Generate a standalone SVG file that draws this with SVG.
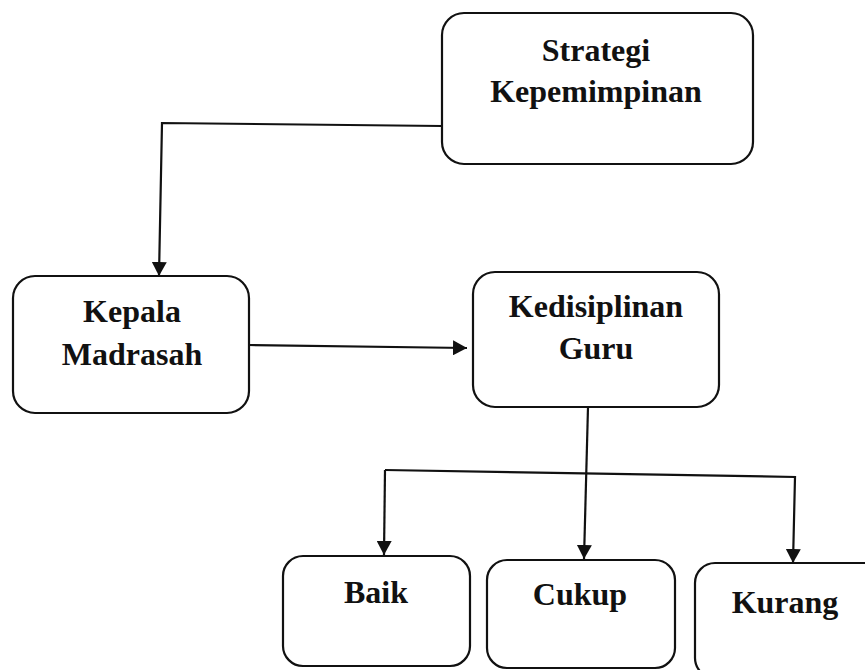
<svg xmlns="http://www.w3.org/2000/svg" width="865" height="670" viewBox="0 0 865 670">
<style>
.box{fill:#fff;stroke:#111;stroke-width:2.2}
.lbl{font-family:"Liberation Serif","Times New Roman",serif;font-weight:bold;font-size:32px;fill:#111;text-anchor:middle}
.con{fill:none;stroke:#111;stroke-width:2.2}
</style>
<defs>
<marker id="arr" viewBox="0 0 14 15" refX="14" refY="7.5" markerWidth="14" markerHeight="15" markerUnits="userSpaceOnUse" orient="auto">
<path d="M0,0 L14,7.5 L0,15 z" fill="#111"/>
</marker>
</defs>
<rect width="865" height="670" fill="#fff"/>
<g id="connectors">
<polyline class="con" points="442,126 162,123 159,276" marker-end="url(#arr)"/>
<line class="con" x1="249" y1="345" x2="467" y2="348" marker-end="url(#arr)"/>
<line class="con" x1="588" y1="407" x2="584" y2="559" marker-end="url(#arr)"/>
<polyline class="con" points="385,470 795,477 793,563" marker-end="url(#arr)"/>
<line class="con" x1="385" y1="470" x2="384" y2="555" marker-end="url(#arr)"/>
</g>
<g id="strategi">
<rect class="box" x="442" y="13" width="311" height="151" rx="22"/>
<text class="lbl" x="596" y="61">Strategi</text>
<text class="lbl" x="596" y="102">Kepemimpinan</text>
</g>
<g id="kepala">
<rect class="box" x="13" y="276" width="236" height="137" rx="22"/>
<text class="lbl" x="132" y="322">Kepala</text>
<text class="lbl" x="132" y="365">Madrasah</text>
</g>
<g id="kedisiplinan">
<rect class="box" x="473" y="272" width="246" height="135" rx="22"/>
<text class="lbl" x="596" y="317">Kedisiplinan</text>
<text class="lbl" x="596" y="359">Guru</text>
</g>
<g id="baik">
<rect class="box" x="283" y="556" width="187" height="110" rx="20"/>
<text class="lbl" x="376" y="603">Baik</text>
</g>
<g id="cukup">
<rect class="box" x="487" y="560" width="188" height="108" rx="20"/>
<text class="lbl" x="580" y="605">Cukup</text>
</g>
<g id="kurang">
<rect class="box" x="695" y="563" width="190" height="115" rx="20"/>
<text class="lbl" x="785" y="613">Kurang</text>
</g>
</svg>
